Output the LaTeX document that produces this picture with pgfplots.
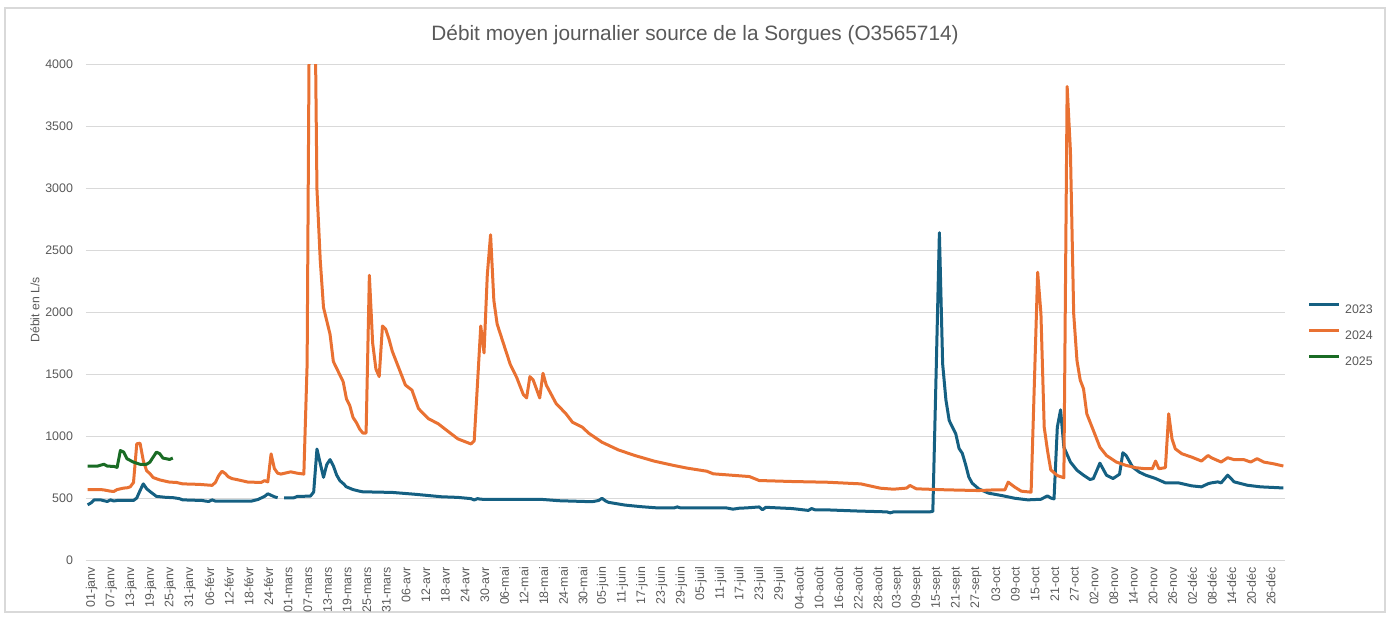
\documentclass[border=0pt]{standalone}
\usepackage{fontspec}
\setmainfont{Liberation Sans}
\usepackage{pgfplots}
\pgfplotsset{compat=1.18}
\definecolor{c23}{HTML}{156082}
\definecolor{c24}{HTML}{E97132}
\definecolor{c25}{HTML}{196B24}
\definecolor{txt}{HTML}{595959}
\definecolor{gridc}{HTML}{D9D9D9}
\begin{document}
\begin{tikzpicture}
\useasboundingbox (-43pt,-29pt) rectangle (654pt,280pt);
\draw[gridc, line width=0.6pt] (-40.5pt,-26pt) rectangle (649.5pt,276pt);
\begin{axis}[
 at={(0,0)}, anchor=south west,
 scale only axis, width=599.5pt, height=248pt,
 xmin=0.5, xmax=366.5, ymin=0, ymax=4000,
 ytick={0,500,...,4000},
 xtick={1,7,...,361},
 xticklabels={01-janv,07-janv,13-janv,19-janv,25-janv,31-janv,06-févr,12-févr,18-févr,24-févr,01-mars,07-mars,13-mars,19-mars,25-mars,31-mars,06-avr,12-avr,18-avr,24-avr,30-avr,06-mai,12-mai,18-mai,24-mai,30-mai,05-juin,11-juin,17-juin,23-juin,29-juin,05-juil,11-juil,17-juil,23-juil,29-juil,04-août,10-août,16-août,22-août,28-août,03-sept,09-sept,15-sept,21-sept,27-sept,03-oct,09-oct,15-oct,21-oct,27-oct,02-nov,08-nov,14-nov,20-nov,26-nov,02-déc,08-déc,14-déc,20-déc,26-déc},
 axis line style={draw=none},
 major tick length=0pt,
 ymajorgrids, grid style={gridc, line width=0.5pt},
 tick label style={text=txt, font=\fontsize{6.2}{7}\selectfont},
 xticklabel style={rotate=90, anchor=east, yshift=-2pt},
 yticklabel style={anchor=east, xshift=-3pt},
 scaled y ticks=false,
 /pgf/number format/assume math mode=true,
 /pgf/number format/set thousands separator={},
 ylabel={Débit en L/s},
 ylabel style={at={(axis description cs:-0.0425,0.504)}, anchor=center, rotate=0, font=\fontsize{6.1}{7}\selectfont, text=txt},
 title={Débit moyen journalier source de la Sorgues (O3565714)},
 title style={at={(axis description cs:0.508,1.0625)}, anchor=center, yshift=-7pt, font=\fontsize{10.4}{12}\selectfont, text=txt},
 legend style={at={(axis description cs:1.019,0.455)}, anchor=west, draw=none, fill=none, inner sep=0pt, outer sep=0pt, row sep=7.8pt, column sep=2.2pt, font=\fontsize{6.2}{7}\selectfont, text=txt, nodes={inner sep=0pt, text height=4.5pt, text depth=0pt}},
 legend image code/.code={\draw[#1, line width=1.5pt] (0pt,2.2pt) -- (15pt,2.2pt);},
 legend cell align=left,
 unbounded coords=jump,
 every axis plot/.append style={line width=1.5pt, line join=round, mark=none},
]
\addplot[c23] coordinates {(1,445)(2,460)(3,485)(5,485)(6,478)(7,472)(8,485)(9,476)(10,480)(15,480)(16,500)(17,560)(18,614)(19,575)(20,553)(22,513)(25,505)(27,503)(29,495)(30,485)(36,480)(37,475)(38,472)(39,485)(40,475)(51,475)(53,488)(55,513)(56,534)(57,522)(58,510)(59,502)(60,nan)(61,502)(64,502)(65,513)(69,515)(70,548)(71,895)(72,780)(73,667)(74,770)(75,810)(76,760)(77,686)(78,640)(79,617)(80,590)(82,568)(84,555)(85,550)(94,545)(101,530)(105,520)(109,510)(114,505)(118,495)(119,484)(120,495)(121,490)(140,488)(145,478)(155,470)(157,480)(158,498)(159,478)(160,465)(165,443)(170,430)(175,420)(180,420)(181,428)(182,420)(196,420)(198,410)(200,418)(202,420)(206,428)(207,405)(208,425)(216,415)(221,400)(222,415)(223,405)(226,405)(236,395)(240,392)(245,388)(246,380)(247,388)(258,388)(259,392)(260,1500)(261,2640)(262,1580)(263,1290)(264,1125)(265,1070)(266,1018)(267,900)(268,860)(269,770)(270,668)(271,620)(273,574)(276,539)(280,520)(284,498)(288,485)(292,490)(294,517)(295,500)(296,493)(297,1071)(298,1211)(299,910)(301,790)(303,724)(305,684)(307,649)(308,657)(310,781)(312,684)(314,657)(316,692)(317,865)(318,843)(320,749)(322,709)(324,684)(327,657)(330,622)(334,622)(338,598)(341,590)(343,615)(344,622)(346,630)(347,622)(349,684)(351,630)(355,603)(359,590)(366,581)};
\addlegendentry{2023}
\addplot[c24] coordinates {(1,568)(5,568)(6,565)(8,555)(9,553)(10,568)(12,580)(13,582)(14,590)(15,625)(16,937)(17,942)(18,800)(19,720)(20,697)(21,665)(23,646)(26,628)(28,626)(30,614)(35,610)(38,604)(39,602)(40,626)(41,680)(42,716)(43,697)(44,670)(45,657)(47,646)(50,628)(54,626)(55,640)(56,630)(57,856)(58,738)(59,700)(60,693)(62,705)(63,711)(65,700)(67,693)(68,1580)(69,5800)(70,5500)(71,2990)(72,2420)(73,2037)(75,1820)(76,1601)(78,1492)(79,1438)(80,1300)(81,1247)(82,1150)(83,1110)(84,1057)(85,1024)(86,1024)(87,2296)(88,1750)(89,1540)(90,1479)(91,1887)(92,1860)(93,1780)(94,1683)(96,1547)(98,1411)(100,1370)(102,1221)(105,1140)(108,1099)(110,1058)(114,977)(118,936)(119,960)(120,1420)(121,1887)(122,1670)(123,2300)(124,2623)(125,2093)(126,1903)(128,1740)(130,1578)(132,1470)(134,1334)(135,1307)(136,1479)(137,1452)(139,1307)(140,1506)(141,1411)(144,1262)(147,1180)(149,1111)(152,1071)(154,1022)(158,950)(163,888)(168,843)(174,797)(180,762)(184,741)(190,716)(192,695)(203,673)(206,641)(216,633)(227,627)(237,614)(243,579)(247,571)(251,580)(252,601)(254,574)(263,566)(273,560)(278,566)(281,566)(282,628)(284,588)(286,555)(289,547)(290,1430)(291,2321)(292,1987)(293,1071)(294,883)(295,727)(297,681)(299,663)(300,3819)(301,3300)(302,1985)(303,1609)(304,1450)(305,1381)(306,1179)(308,1045)(310,910)(312,843)(315,790)(318,763)(321,744)(324,736)(326,736)(327,798)(328,736)(330,745)(331,1179)(332,978)(333,897)(335,857)(338,830)(341,798)(343,843)(344,825)(347,790)(349,825)(351,809)(354,809)(356,790)(358,817)(360,790)(363,776)(366,758)};
\addlegendentry{2024}
\addplot[c25] coordinates {(1,757)(4,757)(5,765)(6,772)(7,757)(9,755)(10,747)(11,883)(12,870)(13,817)(15,789)(17,772)(19,772)(20,789)(22,870)(23,857)(24,822)(26,811)(27,822)};
\addlegendentry{2025}
\end{axis}
\end{tikzpicture}
\end{document}
